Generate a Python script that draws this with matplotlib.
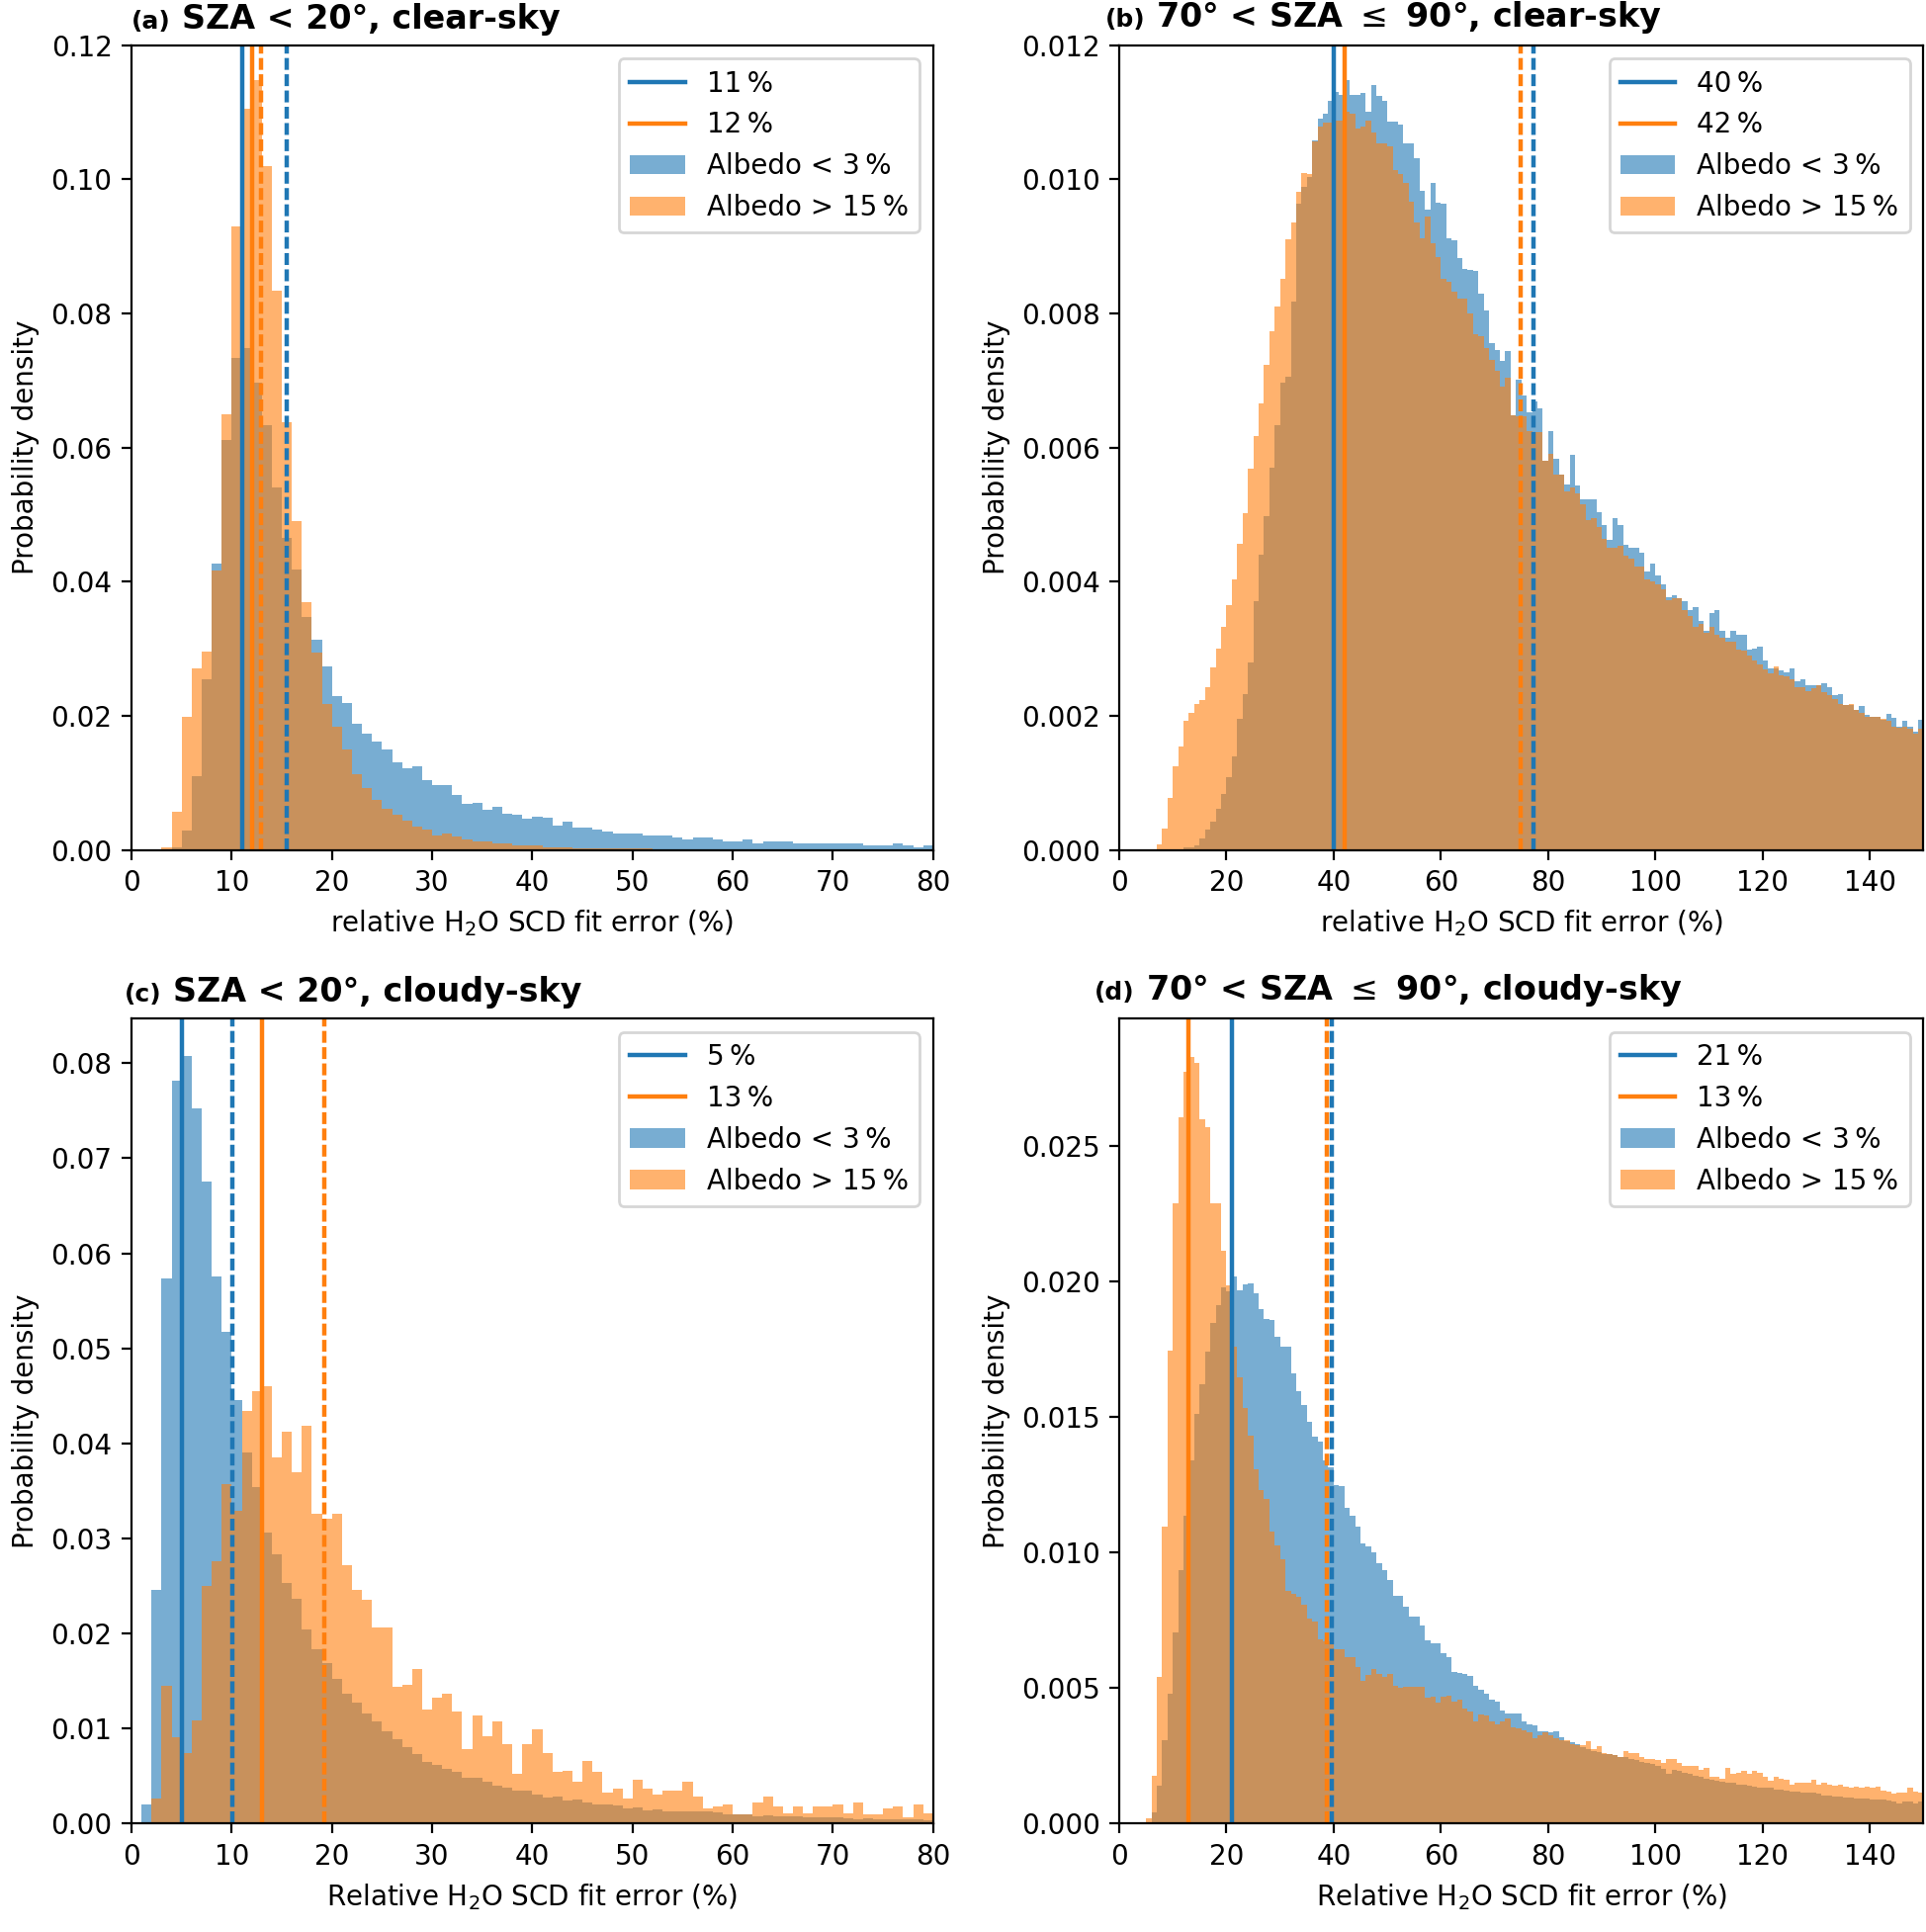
import numpy as np
import matplotlib
matplotlib.use("Agg")
import matplotlib.pyplot as plt
from matplotlib.offsetbox import TextArea, HPacker, AnchoredOffsetbox

# ---- data (probability density per 1 % bin) ----

# (a) SZA < 20, clear-sky, bins 0..80
a_low_albedo = [0, 0, 0, 0, 0.0004, 0.0029, 0.0110, 0.0254, 0.0427, 0.0611,
                0.0733, 0.0748, 0.0697, 0.0633, 0.0540, 0.0465, 0.0418, 0.0347, 0.0313, 0.0273,
                0.0230, 0.0219, 0.0188, 0.0173, 0.0161, 0.0149, 0.0130, 0.0121, 0.0125, 0.0104,
                0.0097, 0.0096, 0.0082, 0.0069, 0.0070, 0.0060, 0.0064, 0.0054, 0.0052, 0.0046,
                0.0049, 0.0048, 0.0036, 0.0042, 0.0033, 0.0034, 0.0030, 0.0028, 0.0025, 0.0025,
                0.0024, 0.0022, 0.0022, 0.0022, 0.0018, 0.0015, 0.0019, 0.0018, 0.0016, 0.0013,
                0.0013, 0.0016, 0.0010, 0.0013, 0.0013, 0.0013, 0.0010, 0.0009, 0.0009, 0.0009,
                0.0009, 0.0009, 0.0009, 0.0006, 0.0006, 0.0006, 0.0009, 0.0007, 0.0004, 0.0006]
a_high_albedo = [0, 0, 0, 0.0004, 0.0057, 0.0198, 0.0270, 0.0295, 0.0416, 0.0650,
                 0.0930, 0.1105, 0.1148, 0.1020, 0.0834, 0.0637, 0.0490, 0.0369, 0.0294, 0.0217,
                 0.0184, 0.0149, 0.0113, 0.0092, 0.0074, 0.0062, 0.0053, 0.0043, 0.0035, 0.0031,
                 0.0022, 0.0025, 0.0020, 0.0016, 0.0012, 0.0012, 0.0009, 0.0009, 0.0007, 0.0006,
                 0.0006, 0.0004, 0.0004, 0.0004, 0.0003, 0.0003, 0.0003, 0.0002, 0.0002, 0.0002,
                 0.0002, 0.0002, 0.0001, 0.0001, 0.0001, 0.0001, 0.0001, 0.0001, 0.0001, 0.0001,
                 0.0001, 0.00008, 0.00008, 0.00008, 0.00007, 0.00007, 0.00006, 0.00006, 0.00006, 0.00005,
                 0.00005, 0.00005, 0.00005, 0.00004, 0.00004, 0.00004, 0.00004, 0.00003, 0.00003, 0.00003]

# (b) 70 < SZA <= 90, clear-sky, bins 0..150, in units of 1e-3
b_low_albedo_e3 = [0, 0, 0, 0, 0, 0, 0, 0, 0, 0,
                   0, 0, 0.04, 0.04, 0.06, 0.17, 0.31, 0.42, 0.61, 0.84,
                   1.08, 1.40, 1.96, 2.32, 2.80, 3.71, 4.40, 4.98, 5.70, 6.33,
                   6.96, 7.05, 8.18, 9.64, 9.88, 10.03, 10.58, 10.90, 10.98, 11.17,
                   11.30, 11.26, 11.47, 11.26, 11.26, 11.29, 11.00, 11.40, 11.24, 11.17,
                   10.86, 10.86, 10.81, 10.53, 10.53, 10.31, 9.83, 9.55, 9.94, 9.65,
                   9.64, 9.12, 9.09, 8.82, 8.66, 8.64, 8.63, 8.30, 8.04, 7.55,
                   7.46, 7.29, 7.44, 6.48, 7.01, 6.78, 6.53, 6.68, 6.58, 5.80,
                   6.25, 5.83, 5.59, 5.45, 5.89, 5.43, 5.23, 5.23, 5.23, 5.04,
                   4.85, 4.62, 4.95, 4.85, 4.55, 4.50, 4.50, 4.43, 4.15, 4.27,
                   4.09, 3.96, 3.77, 3.79, 3.75, 3.71, 3.58, 3.62, 3.41, 3.27,
                   3.53, 3.58, 3.26, 3.16, 3.26, 3.20, 3.20, 2.99, 3.00, 3.03,
                   2.82, 2.71, 2.71, 2.67, 2.65, 2.71, 2.52, 2.55, 2.46, 2.46,
                   2.46, 2.49, 2.43, 2.31, 2.33, 2.16, 2.16, 2.09, 2.14, 2.01,
                   1.98, 1.98, 1.94, 2.03, 1.97, 1.84, 1.93, 1.84, 1.76, 1.94]
b_high_albedo_e3 = [0, 0, 0, 0, 0, 0, 0, 0.08, 0.32, 0.78,
                    1.24, 1.54, 1.92, 2.04, 2.18, 2.24, 2.42, 2.72, 3.00, 3.32,
                    3.65, 4.04, 4.57, 5.02, 5.69, 6.17, 6.65, 7.23, 7.73, 8.10,
                    8.52, 9.10, 9.36, 9.81, 10.09, 10.08, 10.56, 10.79, 10.85, 10.85,
                    10.87, 10.87, 11.00, 10.98, 10.76, 10.79, 10.87, 10.70, 10.53, 10.53,
                    10.49, 10.14, 10.07, 9.94, 9.66, 9.35, 9.12, 9.45, 9.05, 8.84,
                    8.52, 8.47, 8.32, 8.22, 8.22, 8.00, 7.69, 7.66, 7.48, 7.31,
                    7.14, 6.91, 7.04, 6.48, 6.46, 6.46, 6.25, 6.23, 6.23, 5.80,
                    5.91, 5.59, 5.59, 5.34, 5.40, 5.32, 5.15, 4.92, 4.94, 4.81,
                    4.64, 4.51, 4.51, 4.53, 4.39, 4.34, 4.22, 4.22, 4.03, 4.00,
                    3.96, 3.89, 3.72, 3.75, 3.75, 3.58, 3.49, 3.32, 3.37, 3.24,
                    3.32, 3.21, 3.16, 3.10, 3.11, 2.99, 2.97, 2.90, 2.82, 2.77,
                    2.69, 2.63, 2.74, 2.60, 2.59, 2.54, 2.43, 2.42, 2.37, 2.41,
                    2.46, 2.35, 2.31, 2.25, 2.18, 2.16, 2.18, 2.09, 2.05, 1.99,
                    1.98, 1.99, 1.95, 1.93, 1.84, 1.82, 1.84, 1.80, 1.74, 1.80]

# (c) SZA < 20, cloudy-sky, bins 0..80
c_low_albedo = [0, 0.0020, 0.0246, 0.0574, 0.0782, 0.0808, 0.0752, 0.0676, 0.0576, 0.0517,
                0.0446, 0.0390, 0.0354, 0.0306, 0.0283, 0.0253, 0.0237, 0.0204, 0.0183, 0.0169,
                0.0152, 0.0137, 0.0127, 0.0116, 0.0108, 0.0097, 0.0089, 0.0081, 0.0073, 0.0065,
                0.0062, 0.0058, 0.0054, 0.0048, 0.0048, 0.0044, 0.0040, 0.0038, 0.0035, 0.0035,
                0.0031, 0.0027, 0.0029, 0.0024, 0.0025, 0.0022, 0.0020, 0.0020, 0.0019, 0.0016,
                0.0017, 0.0014, 0.0015, 0.0013, 0.0013, 0.0013, 0.0013, 0.0013, 0.0012, 0.0010,
                0.0010, 0.0010, 0.0008, 0.0009, 0.0008, 0.0008, 0.0008, 0.0007, 0.0007, 0.0007,
                0.0007, 0.0006, 0.0005, 0.0006, 0.0005, 0.0005, 0.0005, 0.0005, 0.0005, 0.0004]
c_high_albedo = [0, 0, 0.0026, 0.0145, 0.0091, 0.0074, 0.0109, 0.0250, 0.0276, 0.0357,
                 0.0329, 0.0434, 0.0455, 0.0460, 0.0385, 0.0412, 0.0370, 0.0419, 0.0326, 0.0321,
                 0.0326, 0.0272, 0.0246, 0.0236, 0.0206, 0.0206, 0.0144, 0.0146, 0.0163, 0.0120,
                 0.0133, 0.0137, 0.0118, 0.0078, 0.0114, 0.0092, 0.0108, 0.0084, 0.0052, 0.0084,
                 0.0099, 0.0074, 0.0054, 0.0056, 0.0044, 0.0066, 0.0054, 0.0033, 0.0037, 0.0026,
                 0.0046, 0.0037, 0.0031, 0.0035, 0.0035, 0.0044, 0.0028, 0.0016, 0.0018, 0.0020,
                 0.0010, 0.0010, 0.0022, 0.0028, 0.0018, 0.0011, 0.0018, 0.0011, 0.0018, 0.0018,
                 0.0020, 0.0011, 0.0022, 0.0010, 0.0010, 0.0016, 0.0018, 0.0007, 0.0020, 0.0011]

# (d) 70 < SZA <= 90, cloudy-sky, bins 0..150, in units of 1e-3
d_low_albedo_e3 = [0, 0, 0, 0, 0, 0, 0.41, 1.41, 3.09, 4.80,
                   7.05, 9.36, 11.35, 13.40, 15.10, 16.21, 17.40, 18.46, 19.12, 19.80,
                   19.65, 20.20, 19.69, 19.90, 19.92, 19.57, 18.98, 18.63, 18.59, 17.95,
                   17.60, 17.60, 16.62, 15.96, 15.43, 14.84, 14.28, 14.08, 13.40, 13.14,
                   12.48, 12.44, 11.66, 11.35, 10.94, 10.33, 10.23, 10.02, 9.61, 9.36,
                   9.00, 8.42, 8.42, 8.01, 7.62, 7.62, 7.30, 6.78, 6.64, 6.64,
                   6.29, 6.13, 5.61, 5.57, 5.51, 5.45, 5.10, 4.94, 4.80, 4.59,
                   4.49, 4.18, 4.08, 4.08, 4.08, 3.77, 3.67, 3.63, 3.42, 3.40,
                   3.36, 3.42, 3.20, 3.05, 3.01, 2.95, 2.81, 2.75, 2.68, 2.64,
                   2.58, 2.58, 2.54, 2.44, 2.44, 2.40, 2.34, 2.27, 2.23, 2.19,
                   2.13, 2.03, 1.82, 1.99, 1.93, 1.86, 1.82, 1.78, 1.72, 1.66,
                   1.62, 1.58, 1.54, 1.50, 1.50, 1.45, 1.45, 1.41, 1.37, 1.33,
                   1.33, 1.31, 1.25, 1.25, 1.21, 1.17, 1.17, 1.13, 1.13, 1.13,
                   1.09, 1.04, 1.04, 1.00, 1.00, 0.96, 0.96, 0.92, 0.92, 0.92,
                   0.88, 0.88, 0.88, 0.86, 0.80, 0.76, 0.80, 0.80, 0.76, 0.80]
d_high_albedo_e3 = [0, 0, 0, 0, 0, 0.18, 1.76, 5.41, 10.94, 17.46,
                    22.89, 26.05, 27.75, 28.30, 28.05, 26.00, 25.70, 22.89, 22.89, 21.15,
                    19.86, 17.60, 16.48, 15.35, 14.32, 13.09, 12.32, 11.99, 10.78, 10.27,
                    9.77, 8.59, 8.48, 8.38, 8.07, 7.56, 7.46, 6.80, 6.74, 6.74,
                    6.43, 6.43, 6.13, 6.13, 5.76, 5.27, 5.47, 5.72, 5.51, 5.41,
                    5.51, 5.10, 5.00, 5.06, 5.06, 5.06, 5.06, 4.63, 4.69, 4.45,
                    4.69, 4.73, 4.49, 4.59, 4.24, 4.12, 3.77, 4.04, 3.98, 3.77,
                    3.67, 3.77, 3.87, 3.57, 3.50, 3.46, 3.36, 3.16, 3.26, 3.36,
                    3.26, 3.16, 3.09, 3.09, 2.95, 2.89, 2.89, 3.05, 2.75, 2.85,
                    2.60, 2.58, 2.54, 2.44, 2.68, 2.60, 2.60, 2.44, 2.38, 2.38,
                    2.34, 2.23, 2.40, 2.40, 2.23, 2.13, 2.13, 2.13, 1.99, 2.07,
                    1.72, 1.72, 1.66, 2.07, 1.82, 1.86, 1.93, 1.82, 1.93, 1.86,
                    1.72, 1.58, 1.72, 1.66, 1.62, 1.45, 1.52, 1.52, 1.52, 1.62,
                    1.45, 1.52, 1.45, 1.41, 1.45, 1.37, 1.31, 1.37, 1.31, 1.35,
                    1.31, 1.35, 1.21, 1.17, 1.11, 1.15, 1.13, 1.31, 1.17, 1.15]

# medians (solid) and means (dashed) in %, order: low albedo, high albedo
a_medians = [11.0, 12.0]
a_means = [15.46, 12.9]
b_medians = [40.05, 42.1]
b_means = [77.2, 74.84]
c_medians = [5.0, 13.0]
c_means = [10.03, 19.2]
d_medians = [21.0, 12.9]
d_means = [39.7, 38.75]

a_median_labels = ["11\u2009%", "12\u2009%"]
b_median_labels = ["40\u2009%", "42\u2009%"]
c_median_labels = ["5\u2009%", "13\u2009%"]
d_median_labels = ["21\u2009%", "13\u2009%"]

series_labels = ["Albedo < 3\u2009%", "Albedo > 15\u2009%"]

LINE_W = 1.6
DASHED = (0, (2.7, 1.0))


def draw_panel(ax, low, high, medians, means, median_labels, xmax, ymax,
               tag, title, xlabel, title_x):
    edges = np.arange(len(low) + 1)
    p_low = ax.stairs(low, edges, fill=True, color="C0", alpha=0.6, linewidth=0,
                      label=series_labels[0])
    p_high = ax.stairs(high, edges, fill=True, color="C1", alpha=0.6, linewidth=0,
                       label=series_labels[1])
    l_low = ax.axvline(medians[0], color="C0", lw=LINE_W, label=median_labels[0])
    l_high = ax.axvline(medians[1], color="C1", lw=LINE_W, label=median_labels[1])
    ax.axvline(means[0], color="C0", lw=LINE_W, linestyle=DASHED)
    ax.axvline(means[1], color="C1", lw=LINE_W, linestyle=DASHED)
    ax.set_xlim(0, xmax)
    ax.set_ylim(0, ymax)
    ax.set_xlabel(xlabel)
    ax.set_ylabel("Probability density")
    ax.legend(handles=[l_low, l_high, p_low, p_high], loc="upper right")

    tag_box = TextArea(tag, textprops=dict(fontsize=9, fontweight="bold"))
    title_box = TextArea(title, textprops=dict(fontsize=12, fontweight="bold"))
    packed = HPacker(children=[tag_box, title_box], align="baseline", pad=0, sep=4)
    anchored = AnchoredOffsetbox(loc="lower left", child=packed, pad=0, borderpad=0,
                                 frameon=False, bbox_to_anchor=(title_x, 1.012),
                                 bbox_transform=ax.transAxes)
    ax.add_artist(anchored)


fig = plt.figure(figsize=(9.74, 9.77), dpi=200)
ax_a = fig.add_axes([0.0683, 0.5601, 0.4162, 0.4166])
ax_b = fig.add_axes([0.5811, 0.5601, 0.4176, 0.4166])
ax_c = fig.add_axes([0.0683, 0.0561, 0.4162, 0.4167])
ax_d = fig.add_axes([0.5811, 0.0561, 0.4176, 0.4167])

x_top = "relative H$_2$O SCD fit error (%)"
x_bottom = "Relative H$_2$O SCD fit error (%)"

draw_panel(ax_a, a_low_albedo, a_high_albedo, a_medians, a_means, a_median_labels,
           80, 0.12, "(a)", "SZA < 20°, clear-sky", x_top, 0.0)
draw_panel(ax_b, np.array(b_low_albedo_e3) * 1e-3, np.array(b_high_albedo_e3) * 1e-3,
           b_medians, b_means, b_median_labels,
           150, 0.012, "(b)", r"70° < SZA $\leq$ 90°, clear-sky", x_top, -0.0177)
draw_panel(ax_c, c_low_albedo, c_high_albedo, c_medians, c_means, c_median_labels,
           80, 0.0847, "(c)", "SZA < 20°, cloudy-sky", x_bottom, -0.0083)
draw_panel(ax_d, np.array(d_low_albedo_e3) * 1e-3, np.array(d_high_albedo_e3) * 1e-3,
           d_medians, d_means, d_median_labels,
           150, 0.0297, "(d)", r"70° < SZA $\leq$ 90°, cloudy-sky", x_bottom, -0.031)

fig.savefig("out.png", dpi=200)
